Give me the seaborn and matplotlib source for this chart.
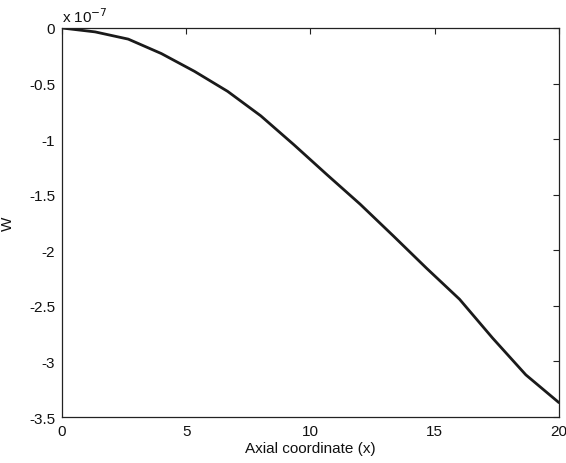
import numpy as np
import pandas as pd
import matplotlib
matplotlib.use("Agg")
import matplotlib.pyplot as plt
from matplotlib.ticker import FuncFormatter, FixedLocator
import seaborn as sns

# Axial positions (element nodes) and transverse displacement W, in units of 1e-7
axial_x = [0.0, 1.333, 2.667, 4.0, 5.333, 6.667, 8.0, 9.333, 10.667,
           12.0, 13.333, 14.667, 16.0, 17.333, 18.667, 20.0]
w_scaled = [0.0, -0.035, -0.10, -0.23, -0.39, -0.57, -0.79, -1.05, -1.32,
            -1.585, -1.87, -2.16, -2.44, -2.79, -3.12, -3.37]
scale = 1e-7

x_ticks = [0, 5, 10, 15, 20]
y_ticks = [0, -0.5, -1, -1.5, -2, -2.5, -3, -3.5]

df = pd.DataFrame({"x": axial_x, "W": np.array(w_scaled) * scale})

sns.set_style("white")
plt.rcParams["font.family"] = ["Liberation Sans", "DejaVu Sans"]
plt.rcParams["xtick.direction"] = "in"
plt.rcParams["ytick.direction"] = "in"

fig = plt.figure(figsize=(5.66, 4.64), dpi=100)
ax = fig.add_axes([0.1095, 0.099, 0.878, 0.8385])

sns.lineplot(data=df, x="x", y="W", ax=ax, color="#1a1a1a", linewidth=2.0,
             estimator=None, sort=False)

ax.set_xlim(0, 20)
ax.set_ylim(-3.5 * scale, 0)
ax.xaxis.set_major_locator(FixedLocator(x_ticks))
ax.yaxis.set_major_locator(FixedLocator([t * scale for t in y_ticks]))
ax.yaxis.set_major_formatter(FuncFormatter(lambda v, p: f"{v / scale:g}"))
ax.xaxis.set_major_formatter(FuncFormatter(lambda v, p: f"{v:g}"))

ax.tick_params(axis="both", which="both", direction="in", length=4, width=0.8,
               top=True, right=True, labelsize=11, color="#222222",
               labelcolor="#111111", pad=5)
for s in ax.spines.values():
    s.set_visible(True)
    s.set_color("#222222")
    s.set_linewidth(0.9)

ax.set_xlabel("Axial coordinate (x)", fontsize=11, color="#111111", labelpad=2)
ax.set_ylabel("W", fontsize=11, color="#111111", labelpad=10)
ax.text(0.0, 1.008, r"x 10$^{-7}$", transform=ax.transAxes, fontsize=11,
        ha="left", va="bottom", color="#111111")

fig.savefig("out.png", dpi=100, facecolor="white")
